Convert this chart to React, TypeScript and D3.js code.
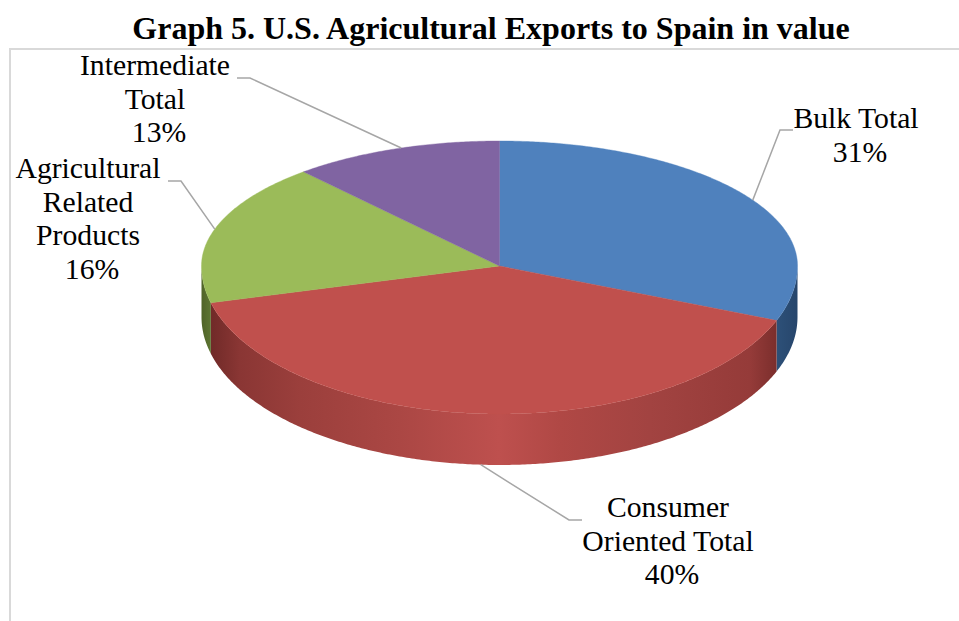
import React from "react";
import * as d3 from "d3";

const title = "Graph 5. U.S. Agricultural Exports to Spain in value";
const categories = ["Bulk Total", "Consumer Oriented Total", "Agricultural Related Products", "Intermediate Total"];
const values = [31, 40, 16, 13];
const topColors = ["#4f81bd", "#c0504d", "#9bbb59", "#8064a2"];
const sideStops: [number, string][][] = [
  [[777, "#2d5078"], [797, "#27466c"]],
  [[213, "#722b29"], [240, "#8a3634"], [300, "#9b3f3c"], [400, "#ab4744"], [499, "#be504e"], [560, "#b04845"], [650, "#a24341"], [750, "#953b39"], [777, "#7b2e2c"]],
  [[201, "#4f6228"], [213, "#607a35"]],
  [[499, "#5e4a79"], [500, "#5e4a79"]],
];
const labelLines = [["Bulk Total"], ["Consumer", "Oriented Total"], ["Agricultural", "Related", "Products"], ["Intermediate", "Total"]];
const labelPos = [
  { x: 856, y: 128 },
  { x: 668, y: 517 },
  { x: 88, y: 178 },
  { x: 155, y: 75 },
];
const leaderPts = [
  [[793, 130], [780, 130]],
  [[582, 520], [569, 520]],
  [[168, 181], [181, 181]],
  [[237, 78], [250, 78]],
];
const leaderNudge = [7.7, 0, 0, 0];

const cx = 499.5, cy = 266, rx = 298, ryBack = 125, ryFront = 148, depth = 51;
const lineH = 33.6;

const warp = (deg: number) => {
  const r = (deg * Math.PI) / 180;
  return Math.cos(r) > 0 ? deg - 5.7 * Math.sin(2 * r) : deg;
};
const proj = (t: number, dy = 0): [number, number] => {
  const r = (t * Math.PI) / 180;
  const c = Math.cos(r);
  return [cx + rx * Math.sin(r), cy - (c > 0 ? ryBack : ryFront) * c + dy];
};
const sample = (a: number, b: number) => {
  const n = Math.max(2, Math.ceil(Math.abs(b - a) * 2));
  return d3.range(n + 1).map((i) => a + ((b - a) * i) / n);
};
const toDeg = (rad: number) => (rad * 180) / Math.PI;

export default function App() {
  const arcs = d3
    .pie<number>()
    .sort(null)
    .value((d) => d)
    .startAngle(0)
    .endAngle(2 * Math.PI)(values)
    .map((a) => ({ startDeg: toDeg(a.startAngle), endDeg: toDeg(a.endAngle) }));
  const line = d3.line();
  return (
    <svg width={959} height={621} viewBox="0 0 959 621" style={{ position: "absolute", left: 0, top: 0, background: "#fff" }}>
      <defs>
        {sideStops.map((stops, i) => {
          const x0 = stops[0][0], x1 = stops[stops.length - 1][0];
          return (
            <linearGradient key={i} id={`side${i}`} gradientUnits="userSpaceOnUse" x1={x0} x2={x1} y1={0} y2={0}>
              {stops.map(([x, c], j) => (
                <stop key={j} offset={(x - x0) / (x1 - x0)} stopColor={c} />
              ))}
            </linearGradient>
          );
        })}
      </defs>
      <path d="M10 621V49H959" fill="none" stroke="#d9d9d9" strokeWidth={2} />
      <text x={491} y={39} textAnchor="middle" fontFamily="Liberation Serif" fontWeight="bold" fontSize={32} fill="#000">
        {title}
      </text>
      {arcs.map((a, i) => {
        const t0 = Math.max(warp(a.startDeg), 90), t1 = Math.min(warp(a.endDeg), 270);
        if (t1 <= t0) return null;
        const ts = sample(t0, t1);
        const pts = [...ts.map((t) => proj(t)), ...ts.slice().reverse().map((t) => proj(t, depth))];
        return <path key={i} d={line(pts as [number, number][]) + "Z"} fill={`url(#side${i})`} />;
      })}
      {arcs.map((a, i) => {
        const ts = sample(warp(a.startDeg), warp(a.endDeg));
        const pts = [[cx, cy], ...ts.map((t) => proj(t))];
        return <path key={i} d={line(pts as [number, number][]) + "Z"} fill={topColors[i]} stroke={topColors[i]} strokeWidth={0.4} />;
      })}
      {arcs.map((a, i) => {
        const t = warp((a.startDeg + a.endDeg) / 2) + leaderNudge[i];
        const r = (t * Math.PI) / 180;
        const end = proj(t, Math.cos(r) < -0.5 ? depth : 0);
        return (
          <path key={i} d={line([...leaderPts[i], end] as [number, number][])!} fill="none" stroke="#a6a6a6" strokeWidth={1.5} />
        );
      })}
      {categories.map((c, i) => (
        <text key={c} textAnchor="middle" fontFamily="Liberation Serif" fontSize={29.7} fill="#000">
          {labelLines[i].map((l, j) => (
            <tspan key={j} x={labelPos[i].x} y={labelPos[i].y + j * lineH}>{l}</tspan>
          ))}
          <tspan x={labelPos[i].x + 4} y={labelPos[i].y + labelLines[i].length * lineH}>{values[i]}%</tspan>
        </text>
      ))}
    </svg>
  );
}
